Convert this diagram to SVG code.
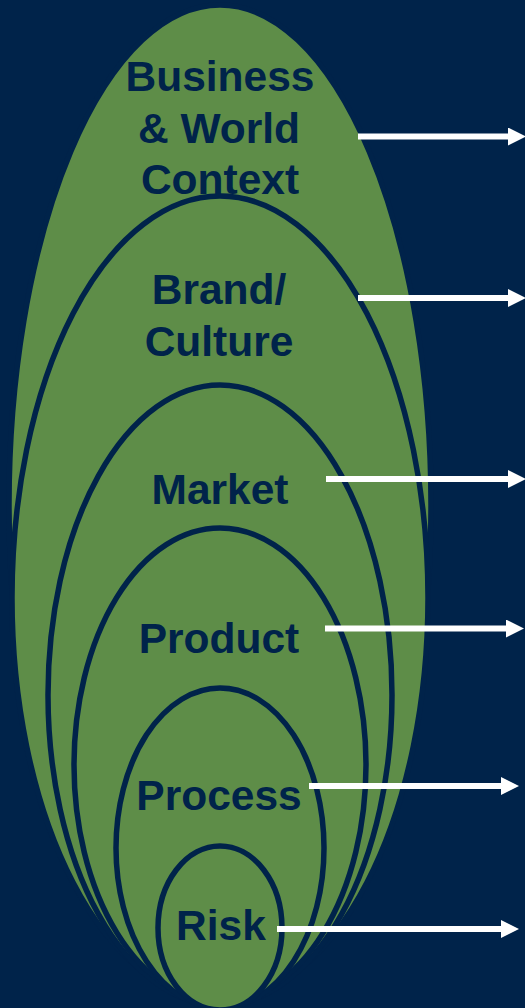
<svg xmlns="http://www.w3.org/2000/svg" width="525" height="1008" viewBox="0 0 525 1008">
  <style>
    .shape { fill: #5E8D48; stroke: #00234A; stroke-width: 5.5; }
    .label { font-family: "Liberation Sans", Arial, sans-serif; font-weight: bold; font-size: 42.5px; fill: #00234A; text-anchor: middle; }
    .conn { stroke: #FFFFFF; stroke-width: 6; fill: none; }
  </style>
  <defs>
    <marker id="arrow" markerUnits="userSpaceOnUse" markerWidth="18" markerHeight="18" refX="0" refY="9" orient="auto">
      <path d="M0,0 L18,9 L0,18 Z" fill="#FFFFFF"/>
    </marker>
  </defs>
  <rect x="0" y="0" width="525" height="1008" fill="#00234A"/>

  <g id="business">
    <ellipse class="shape" cx="220" cy="505" rx="211" ry="500"/>
  </g>
  <g id="brand">
    <ellipse class="shape" cx="220" cy="598" rx="208" ry="402"/>
  </g>
  <g id="market">
    <ellipse class="shape" cx="220" cy="695" rx="172" ry="310"/>
  </g>
  <g id="product">
    <ellipse class="shape" cx="220" cy="765" rx="146" ry="237"/>
  </g>
  <g id="process">
    <ellipse class="shape" cx="220" cy="848" rx="104" ry="160"/>
  </g>
  <g id="risk">
    <ellipse class="shape" cx="220" cy="928" rx="62" ry="82"/>
  </g>

  <g id="labels">
    <text class="label" x="220" y="91">Business</text>
    <text class="label" x="219" y="143">&amp; World</text>
    <text class="label" x="220" y="194">Context</text>
    <text class="label" x="219" y="304">Brand/</text>
    <text class="label" x="219" y="356">Culture</text>
    <text class="label" x="220" y="504">Market</text>
    <text class="label" x="219" y="653">Product</text>
    <text class="label" x="219" y="810">Process</text>
    <text class="label" x="221" y="940">Risk</text>
  </g>

  <g id="connectors">
    <line class="conn" x1="358" y1="136.5" x2="508" y2="136.5" marker-end="url(#arrow)"/>
    <line class="conn" x1="358" y1="298" x2="508" y2="298" marker-end="url(#arrow)"/>
    <line class="conn" x1="326" y1="479" x2="508" y2="479" marker-end="url(#arrow)"/>
    <line class="conn" x1="325" y1="628.5" x2="506" y2="628.5" marker-end="url(#arrow)"/>
    <line class="conn" x1="309" y1="786" x2="501" y2="786" marker-end="url(#arrow)"/>
    <line class="conn" x1="277" y1="929" x2="501" y2="929" marker-end="url(#arrow)"/>
  </g>
</svg>
